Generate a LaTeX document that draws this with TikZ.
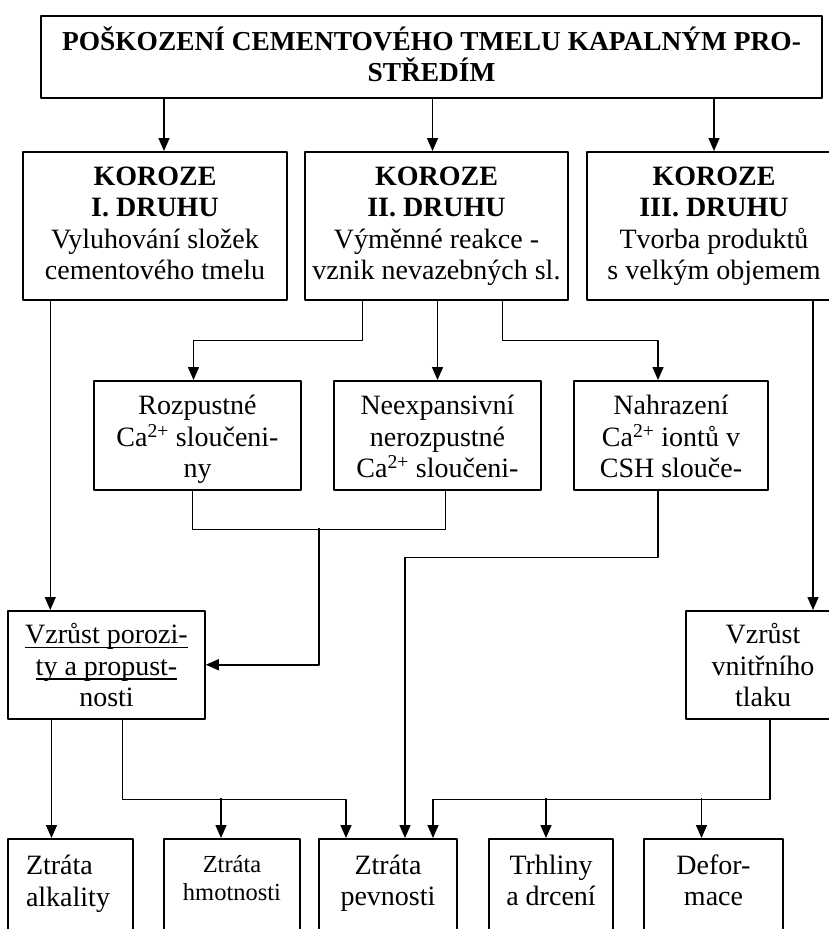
\documentclass[tikz,border=0pt]{standalone}
\usepackage{fontspec}
\setmainfont{Liberation Serif}
\usepackage{tikz}
\usetikzlibrary{arrows.meta}
\newcommand{\ulbox}[1]{\setbox0\hbox{#1}\rlap{\rule[-4.5pt]{\wd0}{1.3pt}}\box0}
\tikzset{
  every picture/.style={line join=round, >={Triangle[length=13pt,width=11pt]},
    font=\fontsize{28}{31.5}\selectfont},
  box/.style={draw, line width=1.5pt, inner sep=0pt, anchor=north, align=center},
  kbox/.style={box, text height=128pt, text depth=20pt},
  rbox/.style={box, text height=97pt, text depth=12pt},
  zbox/.style={box, text height=67pt, text depth=120pt},
  link/.style={line width=1.5pt},
  arr/.style={line width=1.5pt, ->},
}

\begin{document}
\begin{tikzpicture}[x=1pt,y=-1pt]
\useasboundingbox (0,0) rectangle (829,929);
\clip (0,0) rectangle (829,929);
\node[box, minimum width=781pt, text height=66pt, text depth=16pt, font=\fontsize{27.4}{31}\selectfont\bfseries] (top) at (431.5,15) {POŠKOZENÍ CEMENTOVÉHO TMELU KAPALNÝM PRO-\\STŘEDÍM};
\node[kbox, minimum width=264pt] (k1) at (155,151) {\textbf{KOROZE}\\\textbf{I. DRUHU}\\Vyluhování složek\\cementového tmelu};
\node[kbox, minimum width=263pt] (k2) at (436.5,151) {\textbf{KOROZE}\\\textbf{II. DRUHU}\\Výměnné reakce -\\vznik nevazebných sl.};
\node[kbox, minimum width=254pt] (k3) at (714,151) {\textbf{KOROZE}\\\textbf{III. DRUHU}\\Tvorba produktů\\s velkým objemem};
\node[rbox, minimum width=207pt] (r1) at (197.5,380) {Rozpustné\\Ca\textsuperscript{2+} sloučeni-\\ny};
\node[rbox, minimum width=207pt] (r2) at (437.5,380) {Neexpansivní\\nerozpustné\\Ca\textsuperscript{2+} sloučeni-};
\node[rbox, minimum width=194pt] (r3) at (671,380) {Nahrazení\\Ca\textsuperscript{2+} iontů v\\CSH slouče-};
\node[box, minimum width=197pt, text height=96pt, text depth=12pt] (p) at (106.5,610) {\ulbox{Vzrůst porozi-}\\\ulbox{ty a propust-}\\nosti};
\node[box, minimum width=154pt, text height=96pt, text depth=12pt] (t) at (763,610) {Vzrůst\\vnitřního\\tlaku};
\node[zbox, minimum width=125pt, text width=89pt, align=left, text height=36pt] (z1) at (70.5,838) {Ztráta\\alkality};
\node[zbox, minimum width=136pt, text height=62pt, font=\fontsize{24.5}{28}\selectfont] (z2) at (232,838) {Ztráta\\hmotnosti};
\node[zbox, minimum width=138pt] (z3) at (388,838) {Ztráta\\pevnosti};
\node[zbox, minimum width=124pt] (z4) at (551,838) {Trhliny\\a drcení};
\node[zbox, minimum width=139pt] (z5) at (713.5,838) {Defor-\\mace};
\draw[arr] ([xshift=9pt]k1.north |- top.south) -- ([xshift=9pt]k1.north);
\draw[arr] ([xshift=-4pt]k2.north |- top.south) -- ([xshift=-4pt]k2.north);
\draw[arr] (k3.north |- top.south) -- (k3.north);
\draw[arr] ([xshift=28pt]k1.south west) -- ([xshift=28pt]k1.south west |- p.north);
\draw[arr] ([xshift=-74pt]k2.south) -- ++(0,40) -| ([xshift=-4pt]r1.north);
\draw[arr] (r2.north |- k2.south) -- (r2.north);
\draw[arr] ([xshift=66pt]k2.south) -- ++(0,40) -| ([xshift=-13pt]r3.north);
\draw[arr] ([xshift=99pt]k3.south) -- ([xshift=50pt]t.north);
\draw[link] ([xshift=-5pt]r1.south) -- ++(0,39) -| ([xshift=8pt]r2.south);
\coordinate (j1) at (319,528);
\draw[arr] (j1) |- (p.east);
\draw[arr] ([xshift=-13pt]r3.south) -- ++(0,67) -| ([xshift=17pt]z3.north);
\draw[arr] ([xshift=-19pt]z1.north |- p.south) -- ([xshift=-19pt]z1.north);
\draw[arr] ([xshift=16pt]p.south) -- ++(0,80) -| ([xshift=-42pt]z3.north);
\draw[arr] ([xshift=-11pt,yshift=40pt]z2.north) -- ([xshift=-11pt]z2.north);
\draw[arr] ([xshift=7pt]t.south) -- ++(0,80) -| ([xshift=45pt]z3.north);
\draw[arr] ([xshift=-5pt,yshift=40pt]z4.north) -- ([xshift=-5pt]z4.north);
\draw[arr] ([xshift=-12pt,yshift=40pt]z5.north) -- ([xshift=-12pt]z5.north);
\end{tikzpicture}
\end{document}
